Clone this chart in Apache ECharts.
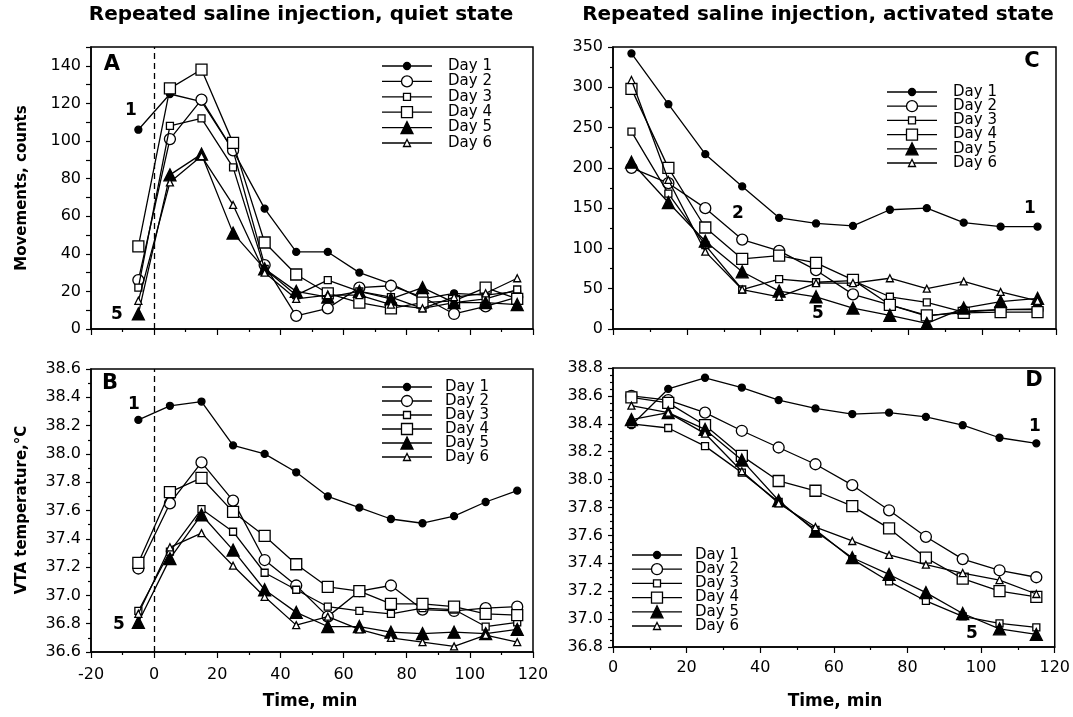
<!DOCTYPE html>
<html>
<head>
<meta charset="utf-8">
<script src="https://cdn.jsdelivr.net/npm/echarts@6/dist/echarts.min.js"></script>
<style>
  html, body { margin: 0; padding: 0; background: #fff; }
  #chart { width: 1073px; height: 717px; }
</style>
</head>
<body>
<div id="chart"></div>
<script>
// Sampling times (min) relative to the saline injection at t = 0
const quietTimes = [-5, 5, 15, 25, 35, 45, 55, 65, 75, 85, 95, 105, 115];
const activeTimes = [5, 15, 25, 35, 45, 55, 65, 75, 85, 95, 105, 115];
const dayNames = ['Day 1', 'Day 2', 'Day 3', 'Day 4', 'Day 5', 'Day 6'];

// A: movements (counts), quiet state — one row per day
const movQuiet = [
  [106, 125, 121, 95, 64, 41, 41, 30, 24, 16, 19, 18, 20],
  [26, 101, 122, 95, 34, 7, 11, 22, 23, 17, 8, 12, 17],
  [22, 108, 112, 86, 32, 18, 26, 20, 17, 11, 14, 16, 21],
  [44, 128, 138, 99, 46, 29, 19, 14, 11, 14, 15, 22, 16],
  [8, 82, 93, 51, 32, 20, 17, 20, 16, 22, 14, 14, 13],
  [15, 78, 92, 66, 30, 16, 18, 18, 13, 11, 17, 19, 27]
];

// B: VTA temperature (°C), quiet state
const tempQuiet = [
  [38.24, 38.34, 38.37, 38.06, 38.00, 37.87, 37.70, 37.62, 37.54, 37.51, 37.56, 37.66, 37.74],
  [37.19, 37.65, 37.94, 37.67, 37.25, 37.07, 36.85, 37.03, 37.07, 36.90, 36.89, 36.91, 36.92],
  [36.89, 37.31, 37.61, 37.45, 37.16, 37.04, 36.92, 36.89, 36.87, 36.91, 36.90, 36.78, 36.81],
  [37.23, 37.73, 37.83, 37.59, 37.42, 37.22, 37.06, 37.03, 36.94, 36.94, 36.92, 36.87, 36.86],
  [36.81, 37.26, 37.57, 37.32, 37.04, 36.88, 36.78, 36.78, 36.74, 36.73, 36.74, 36.73, 36.76],
  [36.87, 37.34, 37.44, 37.21, 36.99, 36.79, 36.85, 36.76, 36.70, 36.67, 36.64, 36.72, 36.67]
];

// C: movements (counts), activated state
const movActive = [
  [342, 279, 217, 177, 138, 131, 128, 148, 150, 132, 127, 127],
  [200, 181, 150, 111, 97, 73, 43, 30, 16, 22, 24, 24],
  [245, 168, 104, 49, 62, 58, 60, 40, 33, 21, 24, 25],
  [298, 200, 126, 87, 91, 82, 61, 30, 17, 20, 21, 21],
  [207, 157, 109, 71, 47, 40, 26, 17, 7, 26, 34, 38],
  [309, 185, 96, 49, 40, 57, 57, 63, 50, 59, 46, 35]
];

// D: VTA temperature (°C), activated state
const tempActive = [
  [38.39, 38.65, 38.73, 38.66, 38.57, 38.51, 38.47, 38.48, 38.45, 38.39, 38.30, 38.26],
  [38.60, 38.57, 38.48, 38.35, 38.23, 38.11, 37.96, 37.78, 37.59, 37.43, 37.35, 37.30],
  [38.40, 38.37, 38.24, 38.05, 37.84, 37.64, 37.43, 37.27, 37.13, 37.02, 36.97, 36.94],
  [38.59, 38.55, 38.39, 38.17, 37.99, 37.92, 37.81, 37.65, 37.44, 37.29, 37.20, 37.16],
  [38.43, 38.48, 38.36, 38.14, 37.85, 37.63, 37.44, 37.32, 37.19, 37.04, 36.93, 36.89],
  [38.53, 38.48, 38.33, 38.06, 37.83, 37.66, 37.56, 37.46, 37.39, 37.33, 37.28, 37.18]
];

// Axis ranges: [min, max, step]
const quietTimeAxis = [-20, 120, 20];
const activeTimeAxis = [0, 120, 20];
const movQuietAxis = [0, 150, 10];
const movActiveAxis = [0, 350, 50];
const tempQuietAxis = [36.6, 38.6, 0.2];
const tempActiveAxis = [36.8, 38.8, 0.2];

const FONT = 'DejaVu Sans';
const INK = '#000';

// Marker per day: shape, size, filled
const markers = [
  { shape: 'circle', size: 7, filled: true },
  { shape: 'circle', size: 11, filled: false },
  { shape: 'rect', size: 7, filled: false },
  { shape: 'rect', size: 11, filled: false },
  { shape: 'triangle', size: 12, filled: true },
  { shape: 'triangle', size: 7, filled: false }
];

const grids = [
  { left: 91, top: 47, width: 442, height: 282 },
  { left: 91, top: 369, width: 442, height: 283 },
  { left: 613, top: 47, width: 443, height: 282 },
  { left: 613, top: 368, width: 442, height: 279 }
].map(g => Object.assign(g, { show: true, borderColor: INK, borderWidth: 1.5, backgroundColor: 'transparent' }));

function xAxisFor(gridIndex, range, showLabels, labelMargin) {
  return {
    type: 'value', gridIndex, min: range[0], max: range[1], interval: range[2],
    axisLine: { onZero: false, lineStyle: { color: INK, width: 1.5 } },
    axisTick: { show: true, inside: false, length: 6, lineStyle: { color: INK, width: 1.2 } },
    minorTick: { show: true, splitNumber: 2, length: 3, lineStyle: { color: INK, width: 1.2 } },
    splitLine: { show: false },
    axisLabel: { show: showLabels, color: INK, fontFamily: FONT, fontSize: 16, margin: labelMargin }
  };
}

function yAxisFor(gridIndex, range, formatter, minorSplit) {
  return {
    type: 'value', gridIndex, min: range[0], max: range[1], interval: range[2],
    axisLine: { show: true, onZero: false, lineStyle: { color: INK, width: 1.5 } },
    axisTick: { show: true, inside: false, length: 5, lineStyle: { color: INK, width: 1.2 } },
    minorTick: { show: minorSplit > 1, splitNumber: minorSplit, length: 3, lineStyle: { color: INK, width: 1.2 } },
    splitLine: { show: false },
    axisLabel: { color: INK, fontFamily: FONT, fontSize: 16, margin: 10, formatter, showMaxLabel: true }
  };
}

const xAxes = [
  xAxisFor(0, quietTimeAxis, false, 14),
  xAxisFor(1, quietTimeAxis, true, 15),
  xAxisFor(2, activeTimeAxis, false, 12),
  xAxisFor(3, activeTimeAxis, true, 13)
];

const yAxes = [
  yAxisFor(0, movQuietAxis, v => (v % 20 === 0 && v <= 140 ? String(v) : ''), 1),
  yAxisFor(1, tempQuietAxis, v => v.toFixed(1), 2),
  yAxisFor(2, movActiveAxis, v => String(v), 2),
  yAxisFor(3, tempActiveAxis, v => v.toFixed(1), 4)
];

const panels = [
  { times: quietTimes, rows: movQuiet, zeroLine: true },
  { times: quietTimes, rows: tempQuiet, zeroLine: true },
  { times: activeTimes, rows: movActive, zeroLine: false },
  { times: activeTimes, rows: tempActive, zeroLine: false }
];

const series = [];
panels.forEach((p, pi) => {
  p.rows.forEach((vals, di) => {
    const m = markers[di];
    const s = {
      type: 'line', name: dayNames[di], xAxisIndex: pi, yAxisIndex: pi,
      data: p.times.map((t, i) => [t, vals[i]]),
      symbol: m.shape, symbolSize: m.size, showAllSymbol: true,
      lineStyle: { color: INK, width: 1.3 },
      itemStyle: { color: m.filled ? INK : '#fff', borderColor: INK, borderWidth: 1.3, opacity: 1 },
      emphasis: { disabled: true }, silent: true, z: 3 + di
    };
    if (p.zeroLine && di === 0) {
      s.markLine = {
        silent: true, symbol: 'none', label: { show: false },
        lineStyle: { color: INK, type: [6, 4], width: 1.3 },
        data: [{ xAxis: 0 }]
      };
    }
    series.push(s);
  });
});

// Hand-built legend: line segment with the day's marker, then the label
function legendGroup(x0, y0, gap, textX) {
  const children = [];
  markers.forEach((m, i) => {
    const y = y0 + i * gap;
    const cx = x0 + 25;
    children.push({ type: 'line', shape: { x1: x0, y1: y, x2: x0 + 50, y2: y }, style: { stroke: INK, lineWidth: 1.3 } });
    const st = { fill: m.filled ? INK : '#fff', stroke: INK, lineWidth: 1.3 };
    const h = m.size / 2;
    if (m.shape === 'circle') {
      children.push({ type: 'circle', shape: { cx, cy: y, r: h }, style: st, z: 2 });
    } else if (m.shape === 'rect') {
      children.push({ type: 'rect', shape: { x: cx - h, y: y - h, width: m.size, height: m.size }, style: st, z: 2 });
    } else {
      children.push({ type: 'polygon', shape: { points: [[cx, y - h], [cx - h, y + h], [cx + h, y + h]] }, style: st, z: 2 });
    }
    children.push({ type: 'text', x: textX, y, style: { text: dayNames[i], fill: INK, font: '15px "' + FONT + '"', verticalAlign: 'middle', align: 'left' } });
  });
  return { type: 'group', children };
}

function label(text, x, y, size, bold, rotate) {
  return {
    type: 'text', x, y, rotation: rotate || 0,
    style: { text, fill: INK, font: (bold ? 'bold ' : '') + size + 'px "' + FONT + '"', align: 'center', verticalAlign: 'middle' }
  };
}

const graphic = [
  label('Repeated saline injection, quiet state', 301, 15, 20, true),
  label('Repeated saline injection, activated state', 818, 15, 20, true),
  label('Movements, counts', 22, 188, 15, true, Math.PI / 2),
  label('VTA temperature,°C', 22, 510, 15, true, Math.PI / 2),
  label('Time, min', 310, 702, 17, true),
  label('Time, min', 835, 702, 17, true),
  label('A', 112, 65, 21, true),
  label('B', 110, 384, 21, true),
  label('C', 1032, 62, 21, true),
  label('D', 1034, 381, 21, true),
  label('1', 131, 111, 17, true),
  label('5', 117, 315, 17, true),
  label('1', 134, 405, 17, true),
  label('5', 119, 625, 17, true),
  label('2', 738, 214, 17, true),
  label('5', 818, 314, 17, true),
  label('1', 1030, 209, 17, true),
  label('1', 1035, 427, 17, true),
  label('5', 972, 634, 17, true),
  legendGroup(382, 66, 15.4, 448),
  legendGroup(382, 387, 14, 445),
  legendGroup(887, 92, 14.2, 953),
  legendGroup(632, 555, 14.2, 695)
];

const chart = echarts.init(document.getElementById('chart'), null, { renderer: 'canvas' });
chart.setOption({
  backgroundColor: '#fff',
  animation: false,
  textStyle: { fontFamily: FONT },
  grid: grids,
  xAxis: xAxes,
  yAxis: yAxes,
  series,
  graphic
});
</script>
</body>
</html>
